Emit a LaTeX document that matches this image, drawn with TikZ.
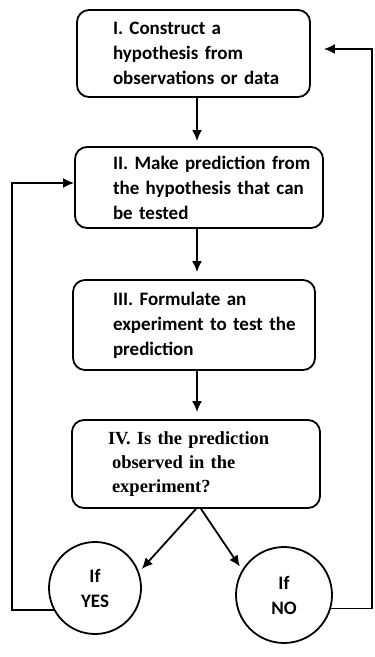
\documentclass[tikz,border=0pt]{standalone}
\usepackage{fontspec}
\newfontfamily\carl{Carlito}
\newfontfamily\tnr{Liberation Serif}
\usetikzlibrary{arrows.meta}

% one line of box text, never wrapped
\newcommand{\boxline}[1]{\mbox{#1}}

\tikzset{
  phase/.style={draw, line width=1.8pt, rounded corners=12pt, align=left,
    inner ysep=0pt, font=\carl\bfseries\fontsize{19}{25}\selectfont},
  outcome/.style={draw, circle, line width=1.8pt, align=center, inner sep=0pt,
    font=\carl\bfseries\fontsize{19}{25}\selectfont},
  flow/.style={-{Latex[length=11pt,width=10pt]}, line width=1.8pt},
}

\begin{document}
\begin{tikzpicture}[x=1pt, y=-1pt]
  \useasboundingbox (0,0) rectangle (375,657);
  \coordinate (axis) at (197,0);
  \coordinate (lft) at (12,183);
  \coordinate (rgt) at (372,49);

  \node[phase, minimum width=233pt, minimum height=87pt, text width=161pt, inner xsep=36pt]
    (i) at (193.5,53.5) {\boxline{I. Construct a}\\\boxline{hypothesis from}\\\boxline{observations or data}};
  \node[phase, minimum width=248pt, minimum height=81pt, text width=172pt, inner xsep=38pt]
    (ii) at (199,187.5) {\boxline{II. Make prediction from}\\\boxline{the hypothesis that can}\\\boxline{be tested}};
  \node[phase, minimum width=242pt, minimum height=90pt, text width=162pt, inner xsep=40pt]
    (iii) at (194,325) {\boxline{III. Formulate an}\\\boxline{experiment to test the}\\\boxline{prediction}};
  \node[phase, minimum width=248pt, minimum height=88pt, text width=176pt, inner xsep=36pt,
    font=\tnr\bfseries\fontsize{18.5}{24}\selectfont]
    (iv) at (196,464) {\boxline{IV. Is the prediction}\\\boxline{\hspace*{4pt}observed in the}\\\boxline{\hspace*{4pt}experiment?}};

  \node[outcome, minimum size=92pt] (yes) at (95,588) {If\\YES};
  \node[outcome, minimum size=96pt] (no) at (284,595) {If\\NO};

  \draw[flow, shorten >=5pt] (axis |- i.south) -- (axis |- ii.north);
  \draw[flow, shorten >=7pt] (axis |- ii.south) -- (axis |- iii.north);
  \draw[flow, shorten >=7pt] (axis |- iii.south) -- (axis |- iv.north);
  \draw[flow, shorten >=4pt] (iv.south) -- (yes.20);
  \draw[flow, shorten >=4pt] ([xshift=5pt]iv.south) -- (no.149);

  % feedback loops
  \draw[flow] (yes.208) -| (lft) -- (lft -| ii.west);
  \draw[flow, shorten >=13pt] (no.344) -| (rgt) -- (rgt -| i.east);
\end{tikzpicture}
\end{document}
